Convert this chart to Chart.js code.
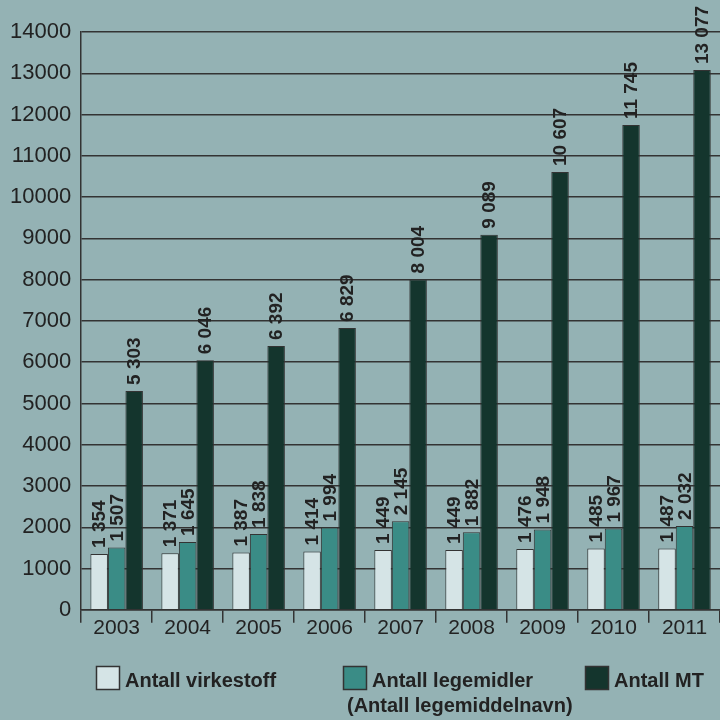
<!DOCTYPE html>
<html>
<head>
<meta charset="utf-8">
<script src="https://cdn.jsdelivr.net/npm/chart.js@4.4.1/dist/chart.umd.min.js"></script>
<style>
  html, body { margin: 0; padding: 0; background: #94b2b4; }
  #wrap { width: 720px; height: 720px; position: relative; }
</style>
</head>
<body>
<div id="wrap"><canvas id="mtChart"></canvas></div>
<script>
const years = ['2003', '2004', '2005', '2006', '2007', '2008', '2009', '2010', '2011']
const virkestoff = [1354, 1371, 1387, 1414, 1449, 1449, 1476, 1485, 1487]
const legemidler = [1507, 1645, 1838, 1994, 2145, 1882, 1948, 1967, 2032]
const antallMT = [5303, 6046, 6392, 6829, 8004, 9089, 10607, 11745, 13077]

const legendLabels = [
    ['Antall virkestoff'],
    ['Antall legemidler', '(Antall legemiddelnavn)'],
    ['Antall MT']
]
const colors = ['#d5e4e6', '#3a8c86', '#14352d']

const fmt = (v) => String(v).replace(/\B(?=(\d{3})+(?!\d))/g, ' ')

// vertical value labels over the bars
const barLabels = {
    id: 'barLabels',
    afterDatasetsDraw(chart) {
        const ctx = chart.ctx
        ctx.save()
        ctx.font = 'bold 19px "Liberation Sans", Arial, sans-serif'
        ctx.fillStyle = '#222'
        ctx.textAlign = 'left'
        ctx.textBaseline = 'middle'
        chart.data.datasets.forEach((ds, i) => {
            chart.getDatasetMeta(i).data.forEach((bar, j) => {
                ctx.save()
                ctx.translate(bar.x, bar.y - 6)
                ctx.rotate(-Math.PI / 2)
                ctx.fillText(fmt(ds.data[j]), 0, 1)
                ctx.restore()
            })
        })
        ctx.restore()
    }
}

// legend drawn below the axis
const bottomLegend = {
    id: 'bottomLegend',
    afterDraw(chart) {
        const ctx = chart.ctx
        const xs = [96, 343, 585]
        const top = 666
        ctx.save()
        ctx.font = 'bold 20px "Liberation Sans Narrow", "Liberation Sans", sans-serif'
        ctx.textBaseline = 'alphabetic'
        ctx.textAlign = 'left'
        legendLabels.forEach((lines, i) => {
            ctx.fillStyle = colors[i]
            ctx.fillRect(xs[i], top, 24, 24)
            ctx.strokeStyle = '#333'
            ctx.lineWidth = 1.5
            ctx.strokeRect(xs[i] + 0.5, top + 0.5, 23, 23)
            ctx.fillStyle = '#222'
            lines.forEach((t, k) => {
                ctx.fillText(t, xs[i] + (k === 0 ? 29 : 4), top + 21 + k * 25)
            })
        })
        ctx.restore()
    }
}

const ctx = document.getElementById('mtChart').getContext('2d')

new Chart(ctx, {
    type: 'bar',
    data: {
        labels: years,
        datasets: [
            { label: legendLabels[0].join(' '), data: virkestoff, backgroundColor: colors[0] },
            { label: legendLabels[1].join(' '), data: legemidler, backgroundColor: colors[1] },
            { label: legendLabels[2].join(' '), data: antallMT, backgroundColor: colors[2] }
        ].map(d => Object.assign(d, {
            borderColor: '#333',
            borderWidth: 1,
            borderSkipped: 'bottom',
            categoryPercentage: 0.74,
            barPercentage: 1
        }))
    },
    options: {
        responsive: true,
        maintainAspectRatio: false,
        animation: false,
        layout: { padding: { top: 32, right: 0, bottom: 86, left: 0 } },
        scales: {
            x: {
                offset: true,
                grid: {
                    offset: true,
                    drawOnChartArea: false,
                    drawTicks: true,
                    tickLength: 13,
                    color: '#333',
                    lineWidth: 1.5
                },
                border: { color: '#333', width: 1.5 },
                ticks: {
                    color: '#222',
                    padding: -7,
                    font: { family: '"Liberation Sans", Arial, sans-serif', size: 21 }
                }
            },
            y: {
                min: 0,
                max: 14000,
                grid: {
                    drawTicks: false,
                    color: '#333',
                    lineWidth: 1.5
                },
                border: { color: '#333', width: 1.5 },
                ticks: {
                    stepSize: 1000,
                    color: '#222',
                    padding: 10,
                    callback: (v) => String(v),
                    font: { family: '"Liberation Sans", Arial, sans-serif', size: 22 }
                }
            }
        },
        plugins: {
            legend: { display: false },
            tooltip: { enabled: false }
        }
    },
    plugins: [barLabels, bottomLegend]
});
</script>
</body>
</html>
